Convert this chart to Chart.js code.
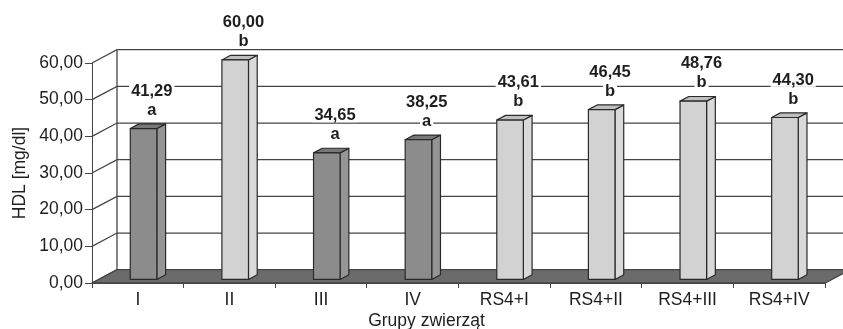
<!DOCTYPE html>
<html>
<head>
<meta charset="utf-8">
<script src="https://cdn.jsdelivr.net/npm/chart.js@4.4.1/dist/chart.umd.min.js"></script>
<style>
  body { margin: 0; background: #fff; }
  #wrap { width: 843px; height: 329px; }
</style>
</head>
<body>
<div id="wrap"><canvas id="hdl-chart"></canvas></div>
<script>
const groups = ['I', 'II', 'III', 'IV', 'RS4+I', 'RS4+II', 'RS4+III', 'RS4+IV'];
const hdlMeans = [41.29, 60.00, 34.65, 38.25, 43.61, 46.45, 48.76, 44.30];
const sigLetters = ['a', 'b', 'a', 'a', 'b', 'b', 'b', 'b'];
const yMin = 0, yMax = 60, yStep = 10;

// depth of the 3D box: back wall offset from the front plane
const DX = 25, DY = 13.3;
// bars sit between these depth fractions
const BAR_FRONT = 0.23, BAR_BACK = 0.58;

const faceColors = {
  a: { front: '#8c8c8c', side: '#959595', top: '#787878' },
  b: { front: '#d2d2d2', side: '#d9d9d9', top: '#bebebe' }
};
const lineColor = '#454545';
const textColor = '#1e1e1e';
const FONT = "'Liberation Sans', Arial, sans-serif";

const comma = v => v.toFixed(2).replace('.', ',');

function polygon(ctx, pts, fill) {
  ctx.beginPath();
  ctx.moveTo(pts[0][0], pts[0][1]);
  for (let k = 1; k < pts.length; k++) ctx.lineTo(pts[k][0], pts[k][1]);
  ctx.closePath();
  ctx.fillStyle = fill;
  ctx.fill();
  ctx.stroke();
}

// text with a white box behind it
function boxedText(ctx, text, x, y) {
  const w = ctx.measureText(text).width;
  ctx.fillStyle = '#fff';
  ctx.fillRect(x - w / 2 - 2, y - 13, w + 4, 15);
  ctx.fillStyle = textColor;
  ctx.fillText(text, x, y);
}

const box3d = {
  id: 'box3d',
  beforeDatasetsDraw(chart) {
    const ctx = chart.ctx;
    const area = chart.chartArea;
    const y = chart.scales.y;
    ctx.save();
    ctx.strokeStyle = lineColor;
    ctx.lineWidth = 1.3;

    // left wall diagonals and back wall gridlines
    for (let v = yMin; v <= yMax; v += yStep) {
      const yf = y.getPixelForValue(v);
      ctx.beginPath();
      ctx.moveTo(area.left, yf);
      ctx.lineTo(area.left + DX, yf - DY);
      ctx.lineTo(chart.width, yf - DY);
      ctx.stroke();
    }
    ctx.beginPath();
    ctx.moveTo(area.left + DX, y.getPixelForValue(yMax) - DY);
    ctx.lineTo(area.left + DX, y.getPixelForValue(yMin) - DY);
    ctx.stroke();

    // floor
    const yb = y.getPixelForValue(yMin);
    polygon(ctx, [
      [area.left, yb], [area.right, yb],
      [area.right + DX, yb - DY], [area.left + DX, yb - DY]
    ], '#6b6b6b');
    ctx.restore();
  },
  beforeDatasetDraw() {
    return false;
  },
  afterDatasetsDraw(chart) {
    const ctx = chart.ctx;
    const meta = chart.getDatasetMeta(0);
    const fx = BAR_FRONT * DX, fy = BAR_FRONT * DY;
    const ddx = (BAR_BACK - BAR_FRONT) * DX, ddy = (BAR_BACK - BAR_FRONT) * DY;
    ctx.save();
    ctx.strokeStyle = '#2a2a2a';
    ctx.lineWidth = 1.2;
    ctx.lineJoin = 'round';

    meta.data.forEach((bar, i) => {
      const c = faceColors[sigLetters[i]];
      const x0 = bar.x - bar.width / 2 + fx;
      const x1 = x0 + bar.width;
      const yt = bar.y - fy;
      const yb = bar.base - fy;
      polygon(ctx, [[x1, yt], [x1 + ddx, yt - ddy], [x1 + ddx, yb - ddy], [x1, yb]], c.side);
      polygon(ctx, [[x0, yt], [x0 + ddx, yt - ddy], [x1 + ddx, yt - ddy], [x1, yt]], c.top);
      polygon(ctx, [[x0, yt], [x1, yt], [x1, yb], [x0, yb]], c.front);
    });

    // value and significance letter above each bar
    ctx.font = `bold 16.5px ${FONT}`;
    ctx.textAlign = 'center';
    ctx.textBaseline = 'alphabetic';
    meta.data.forEach((bar, i) => {
      const cx = bar.x + 14;
      const topBack = bar.y - BAR_BACK * DY;
      const letterY = topBack - 9;
      boxedText(ctx, sigLetters[i], cx, letterY);
      boxedText(ctx, comma(hdlMeans[i]), cx, letterY - 19);
    });
    ctx.restore();
  },
  afterDraw(chart) {
    const ctx = chart.ctx;
    ctx.save();
    ctx.font = `17.5px ${FONT}`;
    ctx.fillStyle = textColor;
    ctx.textAlign = 'center';
    ctx.textBaseline = 'alphabetic';
    ctx.fillText('Grupy zwierząt', chart.width / 2 + 5, 325.5);
    ctx.restore();
  }
};

new Chart(document.getElementById('hdl-chart'), {
  type: 'bar',
  data: {
    labels: groups,
    datasets: [{
      label: 'HDL',
      data: hdlMeans,
      backgroundColor: sigLetters.map(l => faceColors[l].front),
      categoryPercentage: 1,
      barPercentage: 0.29
    }]
  },
  options: {
    responsive: true,
    maintainAspectRatio: false,
    animation: false,
    layout: { padding: { top: 63, right: 18, bottom: 0, left: 0 } },
    plugins: {
      legend: { display: false },
      tooltip: { enabled: false }
    },
    scales: {
      x: {
        grid: { offset: true, drawOnChartArea: false, drawTicks: true, tickLength: 5, color: lineColor },
        border: { display: true, color: lineColor },
        ticks: {
          color: textColor,
          font: { family: FONT, size: 17.5 },
          padding: 2,
          autoSkip: false,
          maxRotation: 0
        },
        afterFit: s => { s.height = 46; }
      },
      y: {
        min: yMin,
        max: yMax,
        grid: { drawOnChartArea: false, drawTicks: true, tickLength: 7, color: lineColor },
        border: { display: true, color: lineColor },
        ticks: {
          stepSize: yStep,
          color: textColor,
          font: { family: FONT, size: 17.5 },
          padding: 2,
          callback: v => comma(v)
        },
        title: {
          display: true,
          text: 'HDL [mg/dl]',
          color: textColor,
          font: { family: FONT, size: 17.5 },
          padding: { top: 10, bottom: 0 }
        },
        afterFit: s => { s.width = 92; }
      }
    }
  },
  plugins: [box3d]
});
</script>
</body>
</html>
